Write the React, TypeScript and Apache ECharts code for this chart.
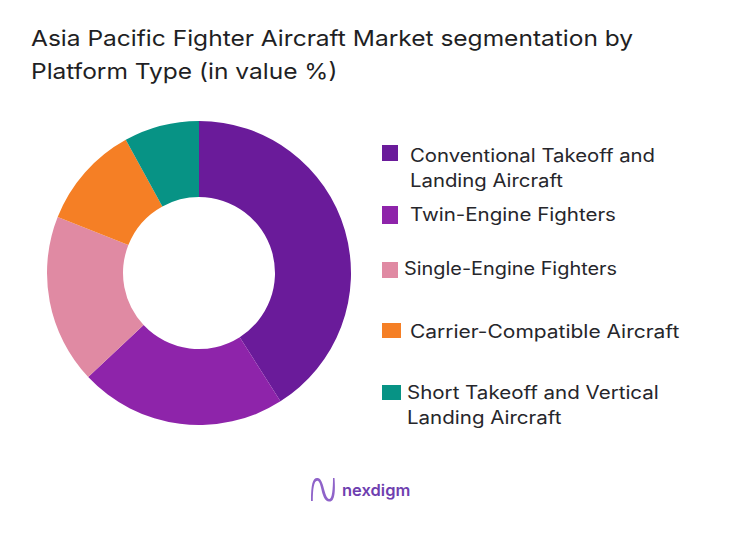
import React, { useEffect, useRef } from 'react';
import * as echarts from 'echarts';

const categories = [
  'Conventional Takeoff and Landing Aircraft',
  'Twin-Engine Fighters',
  'Single-Engine Fighters',
  'Carrier-Compatible Aircraft',
  'Short Takeoff and Vertical Landing Aircraft',
];
const values = [41, 22, 18, 11, 8];
const colors = ['#6a1b9a', '#8e24aa', '#e08aa3', '#f57f25', '#079385'];
const titleLines = ['Asia Pacific Fighter Aircraft Market segmentation by', 'Platform Type (in value %)'];
const legendLines = [
  ['Conventional Takeoff and', 'Landing Aircraft'],
  ['Twin-Engine Fighters'],
  ['Single-Engine Fighters'],
  ['Carrier-Compatible Aircraft'],
  ['Short Takeoff and Vertical', 'Landing Aircraft'],
];

const FONT = 'Inter, sans-serif';
const INK = '#26262b';

// swatch box, line centre and horizontal stretch for each legend row
const legendLayout = [
  { x: 382, y: 145, w: 16, h: 16, textX: 410, mid: 155, stretch: 1.13 },
  { x: 382, y: 206, w: 16, h: 18, textX: 410, mid: 214, stretch: 1.14 },
  { x: 382, y: 262, w: 16, h: 16, textX: 404, mid: 269, stretch: 1.105 },
  { x: 382, y: 323, w: 19, h: 15, textX: 410, mid: 332, stretch: 1.165 },
  { x: 382, y: 385, w: 19, h: 15, textX: 407, mid: 392, stretch: 1.14 },
];

const wavePath =
  'M0 24C0 6 2 0 7 1C13 2 13 20 18 22C21 23 22 12 22 1L23.5 1C24.5 14 24 25.5 18 24.5C10 23.5 11 6 7 4C3 2.5 1.8 12 1.8 24Z';
echarts.graphic.registerShape('nexdigmWave', echarts.graphic.extendPath(wavePath, {}) as any);

const App: React.FC = () => {
  const chartRef = useRef<HTMLDivElement>(null);

  useEffect(() => {
    if (!chartRef.current) return;
    const chart = echarts.init(chartRef.current, undefined, { renderer: 'svg' });

    const titleTexts = titleLines.map((line, i) => ({
      type: 'text',
      x: 31,
      y: 38 + i * 33,
      scaleX: 1.115,
      style: { text: line, font: `400 22px ${FONT}`, fill: '#1f1f24', verticalAlign: 'middle' },
    }));

    const legendItems = legendLayout.flatMap((l, i) => [
      { type: 'rect', shape: { x: l.x, y: l.y, width: l.w, height: l.h }, style: { fill: colors[i] } },
      ...legendLines[i].map((line, j) => ({
        type: 'text',
        x: l.textX,
        y: l.mid + j * 25,
        scaleX: l.stretch,
        style: { text: line, font: `400 18px ${FONT}`, fill: INK, verticalAlign: 'middle' },
      })),
    ]);

    const option: any = {
      animation: false,
      backgroundColor: '#ffffff',
      series: [
        {
          name: 'Platform Type',
          type: 'pie',
          center: [199, 273],
          radius: [76, 152],
          startAngle: 90,
          clockwise: true,
          label: { show: false },
          labelLine: { show: false },
          data: categories.map((name, i) => ({ name, value: values[i], itemStyle: { color: colors[i] } })),
        },
      ],
      graphic: [
        ...titleTexts,
        ...legendItems,
        { type: 'nexdigmWave', x: 311, y: 477, style: { fill: '#8f63c9' } },
        {
          type: 'text',
          x: 342,
          y: 490,
          style: { text: 'nexdigm', font: `600 16.5px ${FONT}`, fill: '#6f3fb0', verticalAlign: 'middle' },
        },
      ],
    };

    chart.setOption(option);
    return () => chart.dispose();
  }, []);

  return <div ref={chartRef} style={{ position: 'absolute', left: 0, top: 0, width: 742, height: 553 }} />;
};

export default App;
